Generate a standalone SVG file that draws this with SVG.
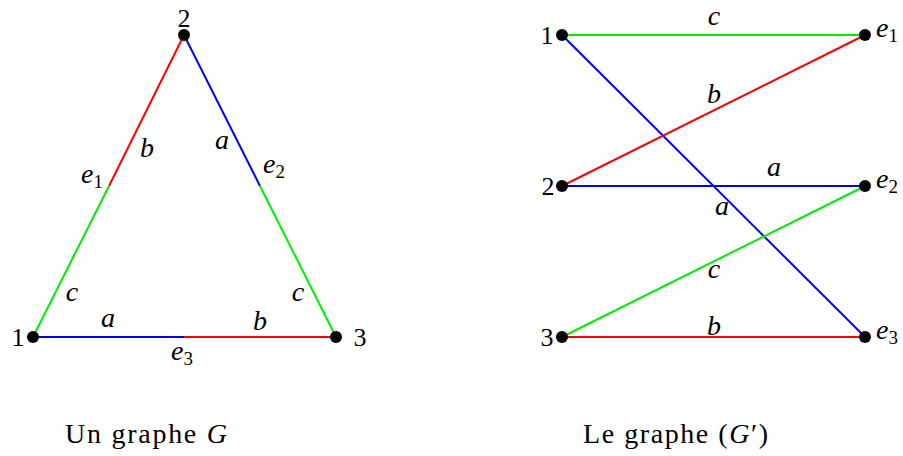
<svg xmlns="http://www.w3.org/2000/svg" width="903" height="456" viewBox="0 0 903 456">
<style>
text{font-family:"Liberation Serif","DejaVu Serif",serif;font-size:26px;fill:#000}
.i{font-style:italic;font-size:28px}
.s{font-size:19px;font-style:normal}
.m{text-anchor:middle}
.cap{font-size:28px}
.cap .i{font-size:28px}
line{stroke-width:2;fill:none}
.r{stroke:#ff0000}.g{stroke:#00ee00}.b{stroke:#0000ff}
circle{fill:#000}
</style>
<rect width="903" height="456" fill="#fff"/>
<g id="connectors">
<line class="r" x1="184" y1="35" x2="109" y2="186"/>
<line class="g" x1="109" y1="186" x2="33" y2="337"/>
<line class="b" x1="184" y1="35" x2="260" y2="186"/>
<line class="g" x1="260" y1="186" x2="336" y2="337"/>
<line class="b" x1="33" y1="337" x2="184" y2="337"/>
<line class="r" x1="184" y1="337" x2="336" y2="337"/>
<line class="g" x1="562" y1="35" x2="865" y2="35"/>
<line class="b" x1="562" y1="35" x2="865" y2="337"/>
<line class="r" x1="562" y1="186" x2="865" y2="35"/>
<line class="b" x1="562" y1="186" x2="865" y2="186"/>
<line class="g" x1="562" y1="337" x2="865" y2="186"/>
<line class="r" x1="562" y1="337" x2="865" y2="337"/>
</g>
<g id="edge-labels">
<text class="i m" x="147" y="157">b</text>
<text class="i m" x="222" y="149">a</text>
<text class="i" x="81" y="183">e<tspan class="s" dy="5">1</tspan></text>
<text class="i" x="263" y="173">e<tspan class="s" dy="5">2</tspan></text>
<text class="i m" x="72" y="301">c</text>
<text class="i m" x="298" y="301">c</text>
<text class="i m" x="108" y="327">a</text>
<text class="i m" x="260" y="330">b</text>
<text class="i" x="171" y="360">e<tspan class="s" dy="5">3</tspan></text>
<text class="i m" x="714" y="25">c</text>
<text class="i m" x="714" y="103">b</text>
<text class="i m" x="774" y="176">a</text>
<text class="i m" x="722" y="215">a</text>
<text class="i m" x="714" y="278">c</text>
<text class="i m" x="714" y="335">b</text>
</g>
<g id="G-node-1"><circle cx="33" cy="337" r="6"/><text class="m" x="18" y="346">1</text></g>
<g id="G-node-2"><circle cx="184" cy="35" r="6"/><text class="m" x="184" y="27">2</text></g>
<g id="G-node-3"><circle cx="336" cy="337" r="6"/><text class="m" x="360" y="346">3</text></g>
<g id="Gp-node-1"><circle cx="562" cy="35" r="6"/><text class="m" x="547" y="44">1</text></g>
<g id="Gp-node-2"><circle cx="562" cy="186" r="6"/><text class="m" x="548" y="195">2</text></g>
<g id="Gp-node-3"><circle cx="562" cy="337" r="6"/><text class="m" x="547" y="346">3</text></g>
<g id="Gp-node-e1"><circle cx="865" cy="35" r="6"/><text class="i" x="876" y="37">e<tspan class="s" dy="5">1</tspan></text></g>
<g id="Gp-node-e2"><circle cx="865" cy="186" r="6"/><text class="i" x="876" y="188">e<tspan class="s" dy="5">2</tspan></text></g>
<g id="Gp-node-e3"><circle cx="865" cy="337" r="6"/><text class="i" x="876" y="339">e<tspan class="s" dy="5">3</tspan></text></g>
<g id="captions">
<text class="cap" x="65" y="443" textLength="162" lengthAdjust="spacing">Un graphe <tspan class="i">G</tspan></text>
<text class="cap" x="583" y="443" textLength="185" lengthAdjust="spacing">Le graphe (<tspan class="i">G</tspan>′)</text>
</g>
</svg>
